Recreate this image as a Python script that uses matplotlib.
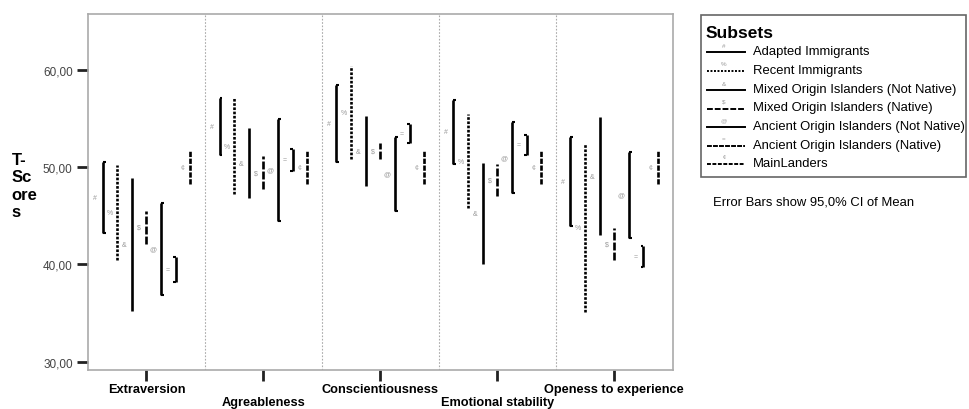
import numpy as np
import matplotlib.pyplot as plt
from matplotlib.lines import Line2D
from matplotlib.patches import Rectangle

plt.rcParams['font.family'] = ['Liberation Sans', 'DejaVu Sans']

# categories (x axis)
traits = ['Extraversion', 'Agreableness', 'Conscientiousness',
          'Emotional stability', 'Openess to experience']

subsets = ['Adapted Immigrants', 'Recent Immigrants',
           'Mixed Origin Islanders (Not Native)', 'Mixed Origin Islanders (Native)',
           'Ancient Origin Islanders (Not Native)', 'Ancient Origin Islanders (Native)',
           'MainLanders']

# 95% CI upper / lower bounds per subset, one value per trait
adapted_hi = [50.5, 57.1, 58.4, 56.9, 53.1]
adapted_lo = [43.2, 51.2, 50.5, 50.3, 43.9]
recent_hi = [50.2, 57.1, 60.4, 55.4, 52.4]
recent_lo = [40.4, 47.2, 50.8, 45.8, 35.1]
mixed_nn_hi = [48.9, 54.0, 55.2, 50.4, 55.1]
mixed_nn_lo = [35.2, 46.8, 48.0, 40.0, 43.0]
mixed_n_hi = [45.5, 51.1, 52.5, 50.3, 43.7]
mixed_n_lo = [42.1, 47.7, 50.8, 47.0, 40.4]
ancient_nn_hi = [46.3, 54.9, 53.1, 54.6, 51.5]
ancient_nn_lo = [36.8, 44.5, 45.5, 47.3, 42.7]
ancient_n_hi = [40.7, 51.8, 54.4, 53.3, 41.9]
ancient_n_lo = [38.2, 49.6, 52.5, 51.2, 39.7]
main_hi = [51.7, 51.7, 51.7, 51.7, 51.7]
main_lo = [48.3, 48.3, 48.3, 48.3, 48.3]

highs = [adapted_hi, recent_hi, mixed_nn_hi, mixed_n_hi, ancient_nn_hi, ancient_n_hi, main_hi]
lows = [adapted_lo, recent_lo, mixed_nn_lo, mixed_n_lo, ancient_nn_lo, ancient_n_lo, main_lo]

styles = ['-', (0, (1, 0.6)), '-', (0, (3, 0.8)), '-', '-', (0, (2, 0.6))]
leg_styles = ['-', (0, (1, 0.8)), '-', (0, (3, 1)), '-', (0, (2.5, 0.6)), (0, (2, 0.8))]
caps = ['right', None, None, None, 'right', 'left', None]
glyphs = ['#', '%', '&', '$', '@', '=', '¢']

fig = plt.figure(figsize=(9.7, 4.1), dpi=100)
ax = fig.add_axes([0.0907, 0.0951, 0.6028, 0.8676])

for i in range(len(subsets)):
    off = -0.5 + (i + 1) / 8
    for j in range(len(traits)):
        x = j + off
        hi, lo = highs[i][j], lows[i][j]
        ax.plot([x, x], [lo, hi], color='black', lw=1.9, linestyle=styles[i],
                solid_capstyle='butt')
        if caps[i] == 'right':
            ax.hlines([lo, hi], x, x + 0.025, color='black', lw=1.5)
        elif caps[i] == 'left':
            ax.hlines([lo, hi], x - 0.025, x, color='black', lw=1.5)
        ax.text(x - 0.065, (hi + lo) / 2, glyphs[i], fontsize=5, color='#999999',
                ha='center', va='center')

for b in range(1, len(traits)):
    ax.axvline(b - 0.5, color='#aaaaaa', lw=0.8, linestyle=(0, (1.5, 1.5)))

ax.set_xlim(-0.5, 4.5)
ax.set_ylim(29.13, 65.7)
ax.set_yticks([30, 40, 50, 60])
ax.set_yticklabels(['30,00', '40,00', '50,00', '60,00'], fontsize=8.5, color='#444444')
ax.set_xticks(range(len(traits)))
ax.set_xticklabels([t if k % 2 == 0 else '\n' + t for k, t in enumerate(traits)],
                   fontsize=9.2, fontweight='bold', linespacing=1.15)
ax.tick_params(axis='both', direction='out', length=8, width=2, color='#222222')
ax.tick_params(axis='x', pad=1)
ax.tick_params(axis='y', pad=3)
for s in ax.spines.values():
    s.set_color('#aaaaaa')
    s.set_linewidth(1.2)

fig.text(0.012, 0.545, 'T-\nSc\nore\ns', fontsize=12, fontweight='bold',
         ha='left', va='center', linespacing=1.2)


# legend drawn by hand in pixel coordinates
def fx(px):
    return px / 970


def fy(py):
    return 1 - py / 410


fig.add_artist(Rectangle((fx(701), fy(178)), fx(966) - fx(701), fy(15.5) - fy(178),
                         transform=fig.transFigure, fill=False, edgecolor='#666666', lw=1.2))
fig.text(fx(706), fy(34), 'Subsets', fontsize=12.5, fontweight='bold', va='center')
row_y = [52.3, 71, 90, 108.5, 127.3, 146, 164]
for k, lab in enumerate(subsets):
    fig.add_artist(Line2D([fx(707), fx(745)], [fy(row_y[k] + 1), fy(row_y[k] + 1)],
                          transform=fig.transFigure, color='black', lw=1.4,
                          linestyle=leg_styles[k]))
    fig.text(fx(724), fy(row_y[k] - 6), glyphs[k], fontsize=4.5, color='#999999',
             ha='center', va='center')
    fig.text(fx(753), fy(row_y[k]), lab, fontsize=9.4, va='center')

fig.text(fx(713), fy(203), 'Error Bars show 95,0% CI of Mean', fontsize=9.4, va='center')

fig.savefig('out.png', dpi=100)
